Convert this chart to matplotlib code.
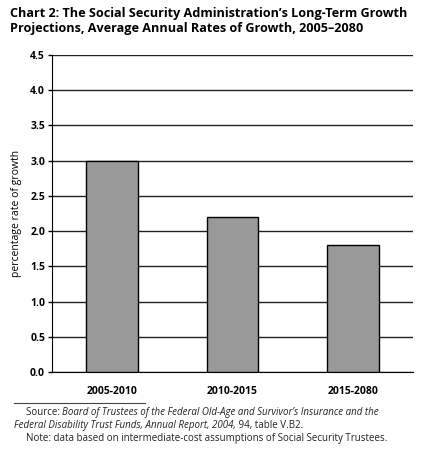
import matplotlib
matplotlib.use('Agg')
import matplotlib.pyplot as plt
from matplotlib.lines import Line2D

plt.rcParams['font.family'] = ['Open Sans', 'DejaVu Sans']

# Data
periods = ['2005-2010', '2010-2015', '2015-2080']
growth = [3.0, 2.2, 1.8]
yticks = [0.0, 0.5, 1.0, 1.5, 2.0, 2.5, 3.0, 3.5, 4.0, 4.5]

fig = plt.figure(figsize=(4.29, 4.5), dpi=100)
ax = fig.add_axes([52/429, 1 - 372/450, (413 - 52)/429, (372 - 55)/450])

ax.bar(range(len(periods)), growth, width=0.43, color='#999999',
       edgecolor='black', linewidth=1.0, zorder=3)

ax.set_xlim(-0.5, len(periods) - 0.5)
ax.set_ylim(0, 4.5)
ax.set_yticks(yticks)
ax.set_yticklabels(['%.1f' % v for v in yticks], fontsize=7.5, fontweight='bold')
ax.set_xticks(range(len(periods)))
ax.set_xticklabels(periods, fontsize=7.5, fontweight='bold')
ax.tick_params(axis='x', length=0, pad=10)
ax.tick_params(axis='y', length=3, width=1, pad=2)
ax.yaxis.grid(True, color='#222222', linewidth=1.0, zorder=0)
ax.set_axisbelow(True)
for side in ['top', 'right']:
    ax.spines[side].set_visible(False)
ax.set_ylabel('percentage rate of growth', fontsize=7.5, labelpad=6)

fig.text(10/429, 1 - 7/450,
         'Chart 2: The Social Security Administration\u2019s Long-Term Growth\n'
         'Projections, Average Annual Rates of Growth, 2005\u20132080',
         fontsize=9.1, fontweight='bold', va='top', ha='left', linespacing=1.2)

fig.add_artist(Line2D([14/429, 145/429], [1 - 403/450, 1 - 403/450],
                      color='#444444', linewidth=0.8, transform=fig.transFigure))

fs = 7.0
color = '#222222'


def chain(parts, x, y):
    # place pieces of text one after another on one line
    fig.canvas.draw()
    for s, st in parts:
        t = fig.text(x / 429, 1 - y / 450, s, fontsize=fs, style=st,
                     va='baseline', color=color)
        x = t.get_window_extent(fig.canvas.get_renderer()).x1


chain([('Source: ', 'normal'),
       ('Board of Trustees of the Federal Old-Age and Survivor\u2019s Insurance and the',
        'italic')], 26, 415)
chain([('Federal Disability Trust Funds, Annual Report, 2004,', 'italic'),
       (' 94, table V.B2.', 'normal')], 14, 428)
chain([('Note: data based on intermediate-cost assumptions of Social Security Trustees.',
        'normal')], 26, 441)

fig.savefig('out.png', dpi=100)
